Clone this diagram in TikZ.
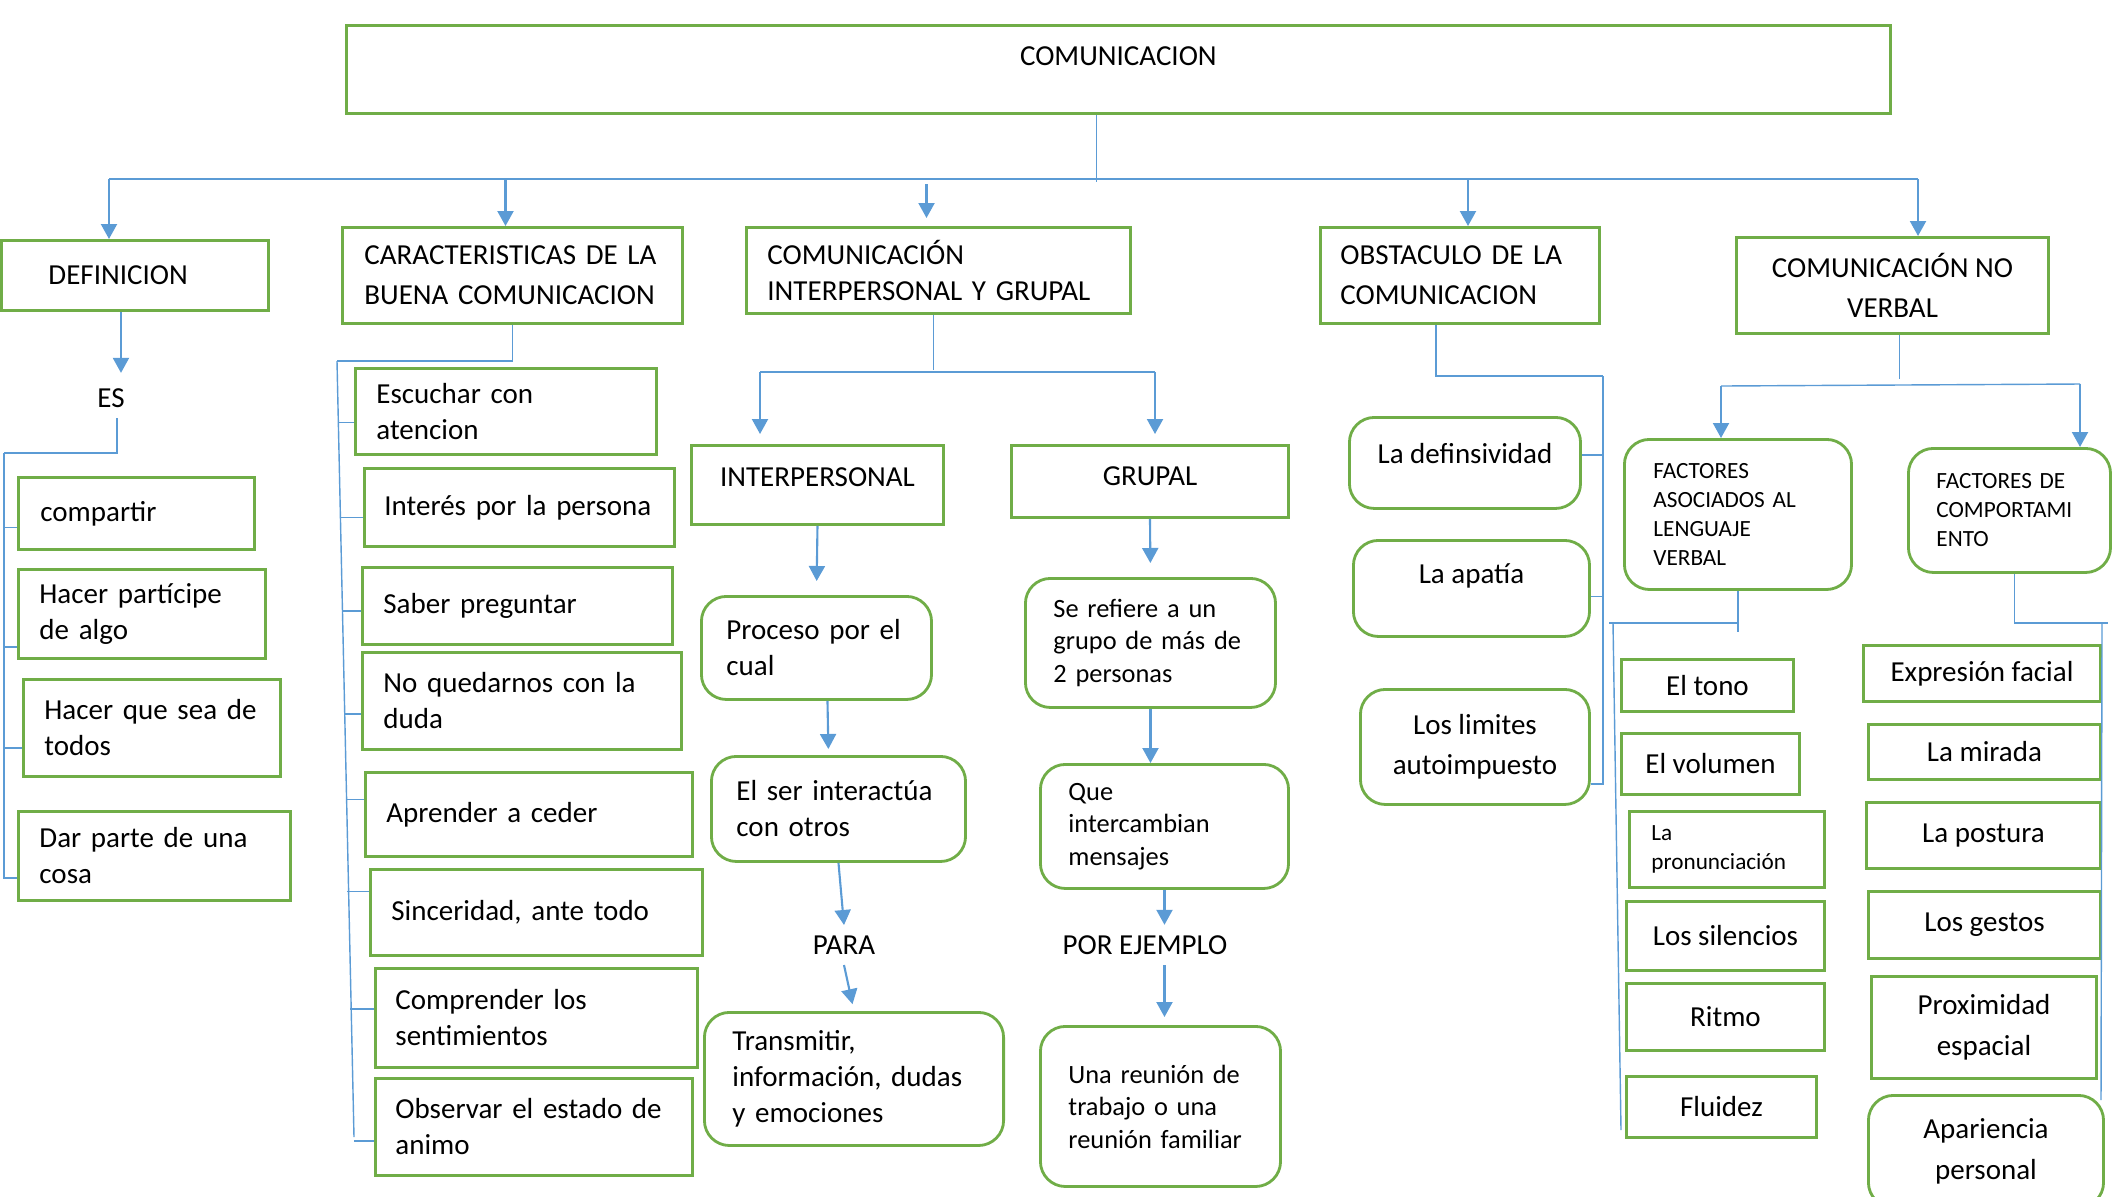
\documentclass[tikz,border=0pt]{standalone}
\usepackage{fontspec}
\setmainfont{Carlito}
\usepackage{tikz}
\usetikzlibrary{arrows.meta,calc}
\definecolor{boxgreen}{HTML}{70AD47}
\definecolor{lineblue}{HTML}{5B9BD5}
\newcommand{\fmain}{\fontsize{8.25}{10.25}\selectfont}
\newcommand{\fhead}{\fontsize{8.25}{11.5}\selectfont}
\newcommand{\fsmall}{\fontsize{7.5}{9.25}\selectfont}
\newcommand{\ftiny}{\fontsize{6.6}{8.25}\selectfont}

\begin{document}
\begin{tikzpicture}[x=0.01cm, y=-0.01cm,
        wh/.style 2 args={minimum width=#1cm, minimum height=#2cm},
        pad/.style 2 args={inner xsep=#1cm, text width=#2cm},
        box/.style={rectangle, draw=boxgreen, line width=0.8pt, anchor=north west, inner ysep=0pt, align=center, font=\fmain},
        lbox/.style={box, align=left},
        rbox/.style={box, rounded corners=0.25cm},
        rlbox/.style={lbox, rounded corners=0.25cm},
        lbl/.style={inner sep=0.1cm, font=\fmain},
        line/.style={draw=lineblue, line width=0.4pt},
        arrow/.style={draw=lineblue, line width=0.6pt, -{Triangle[width=0.16cm,length=0.15cm]}}
    ]
        \useasboundingbox (0,0) rectangle (2112,1196);
        \clip (0,0) rectangle (2112,1196);

        % Nodes
        \node[box, wh={15.43}{0.88}, text depth=0.26cm] (com) at (345,24) {COMUNICACION};

        \node[lbox, wh={2.67}{0.70}, pad={0.47}{1.73}] (defn) at (0,239) {DEFINICION};
        \node[lbox, wh={3.40}{0.96}, pad={0.22}{2.96}, font=\fhead] (car) at (341,226) {CARACTERISTICAS DE LA\\BUENA COMUNICACION};
        \node[lbox, wh={3.84}{0.86}, pad={0.21}{3.42}] (ci) at (745,226) {COMUNICACIÓN\\INTERPERSONAL Y GRUPAL};
        \node[lbox, wh={2.79}{0.96}, pad={0.20}{2.39}, font=\fhead] (obs) at (1319,226) {OBSTACULO DE LA\\COMUNICACION};
        \node[box, wh={3.12}{0.96}, font=\fhead] (nv) at (1735,236) {COMUNICACIÓN NO\\VERBAL};

        \node[lbl] (es) at (111,398) {ES};
        \node[lbox, wh={2.36}{0.72}, pad={0.22}{1.92}] (comp) at (17,476) {compartir};
        \node[lbox, wh={2.47}{0.89}, pad={0.21}{2.05}] (hac) at (17,568) {Hacer partícipe\\de algo};
        \node[lbox, wh={2.57}{0.97}, pad={0.21}{2.15}] (que) at (22,678) {Hacer que sea de\\todos};
        \node[lbox, wh={2.72}{0.89}, pad={0.21}{2.30}] (dar) at (17,810) {Dar parte de una\\cosa};

        \node[lbox, wh={3.01}{0.86}, pad={0.21}{2.59}] (esc) at (354,367) {Escuchar con\\atencion};
        \node[lbox, wh={3.10}{0.78}, pad={0.20}{2.70}] (int) at (363,467) {Interés por la persona};
        \node[lbox, wh={3.10}{0.77}, pad={0.21}{2.68}] (sab) at (361,566) {Saber preguntar};
        \node[lbox, wh={3.19}{0.97}, pad={0.21}{2.77}] (noq) at (361,651) {No quedarnos con la\\duda};
        \node[lbox, wh={3.27}{0.84}, pad={0.21}{2.85}] (apr) at (364,771) {Aprender a ceder};
        \node[lbox, wh={3.32}{0.86}, pad={0.21}{2.90}] (sin) at (369,868) {Sinceridad, ante todo};
        \node[lbox, wh={3.22}{0.99}, pad={0.20}{2.82}] (cmp) at (374,967) {Comprender los\\sentimientos};
        \node[lbox, wh={3.17}{0.97}, pad={0.20}{2.77}] (obv) at (374,1077) {Observar el estado de\\animo};

        \node[box, wh={2.52}{0.79}, text depth=0.16cm] (inter) at (690,444) {INTERPERSONAL};
        \node[box, wh={2.77}{0.72}, text depth=0.10cm] (grup) at (1010,444) {GRUPAL};
        \node[rlbox, wh={2.30}{1.03}, pad={0.25}{1.80}] (proc) at (700,595) {Proceso por el\\cual};
        \node[rlbox, wh={2.54}{1.05}, pad={0.25}{2.04}] (elser) at (710,755) {El ser interactúa\\con otros};
        \node[lbl] (para) at (844,945) {PARA};
        \node[rlbox, wh={2.99}{1.33}, pad={0.28}{2.43}] (trans) at (703,1011) {Transmitir,\\información, dudas\\y emociones};

        \node[rlbox, wh={2.50}{1.29}, pad={0.28}{1.94}, font=\fsmall] (sere) at (1024,577) {Se refiere a un\\grupo de más de\\2 personas};
        \node[rlbox, wh={2.48}{1.24}, pad={0.28}{1.92}, font=\fsmall] (queint) at (1039,763) {Que\\intercambian\\mensajes};
        \node[lbl] (ej) at (1145,945) {POR EJEMPLO};
        \node[rlbox, wh={2.40}{1.60}, pad={0.28}{1.84}, font=\fsmall] (reu) at (1039,1025) {Una reunión de\\trabajo o una\\reunión familiar};

        \node[rbox, wh={2.31}{0.91}, text depth=0.20cm] (defs) at (1348,416) {La definsividad};
        \node[rbox, wh={2.36}{0.96}, text depth=0.30cm] (apa) at (1352,539) {La apatía};
        \node[rbox, wh={2.29}{1.15}, font=\fhead] (lim) at (1359,688) {Los limites\\autoimpuesto};

        \node[rlbox, wh={2.27}{1.50}, pad={0.29}{1.69}, font=\ftiny] (fa) at (1623,438) {FACTORES\\ASOCIADOS AL\\LENGUAJE\\VERBAL};
        \node[rlbox, wh={2.02}{1.24}, pad={0.28}{1.46}, font=\ftiny] (fc) at (1907,447) {FACTORES DE\\COMPORTAMI\\ENTO};

        \node[box, wh={1.72}{0.52}] (tono) at (1620,658) {El tono};
        \node[box, wh={1.78}{0.61}] (vol) at (1620,732) {El volumen};
        \node[lbox, wh={1.95}{0.76}, pad={0.22}{1.51}, font=\ftiny] (pron) at (1628,810) {La\\pronunciación};
        \node[box, wh={1.98}{0.69}] (sil) at (1625,900) {Los silencios};
        \node[box, wh={1.98}{0.67}] (rit) at (1625,982) {Ritmo};
        \node[box, wh={1.90}{0.61}] (flu) at (1625,1075) {Fluidez};

        \node[box, wh={2.37}{0.56}] (expr) at (1862,644) {Expresión facial};
        \node[box, wh={2.32}{0.55}] (mir) at (1867,723) {La mirada};
        \node[box, wh={2.34}{0.66}] (pos) at (1865,801) {La postura};
        \node[box, wh={2.32}{0.67}] (ges) at (1867,890) {Los gestos};
        \node[box, wh={2.25}{1.02}, font=\fhead] (prox) at (1870,975) {Proximidad\\espacial};
        \node[rbox, wh={2.35}{1.12}, font=\fhead] (apar) at (1867,1094) {Apariencia\\personal};

        % Bus points
        \coordinate (busL) at (109,179);
        \coordinate (busR) at (1918,179);
        \coordinate (defL) at (4,453);
        \coordinate (carL) at (337,361);
        \coordinate (carB) at (354,1137);
        \coordinate (ciL) at (760,372);
        \coordinate (ciR) at (1155,372);
        \coordinate (obR) at (1603,376);
        \coordinate (nvL) at (1721,386);
        \coordinate (nvR) at (2080,384);
        \coordinate (faL) at (1609,623);
        \coordinate (faR) at (1738,623);
        \coordinate (faB) at (1621,1130);
        \coordinate (fcR) at (2108,623);
        \coordinate (fcB) at (2101,1100);

        % Arrows
        \draw[line] ([xshift=-0.22cm]com.south) -- ++(0,67);
        \draw[line] (busL) -- (busR);
        \draw[arrow] (busL) -- (busL |- defn.north);
        \draw[arrow] ([xshift=-0.07cm]car.north) ++(0,-47) -- ([xshift=-0.07cm]car.north);
        \draw[arrow, shorten >=0.08cm] ([xshift=-0.12cm]ci.north) ++(0,-42) -- ([xshift=-0.12cm]ci.north);
        \draw[arrow] ([xshift=0.08cm]obs.north) ++(0,-47) -- ([xshift=0.08cm]obs.north);
        \draw[arrow] (busR) -- (busR |- nv.north);

        \draw[arrow] ([xshift=-0.14cm]defn.south) -- ++(0,61);
        \draw[line] ([xshift=0.06cm]es.south) |- (defL);
        \foreach \n/\d in {comp/-0.14cm, hac/-0.33cm, que/-0.20cm, dar/-0.22cm}
            \draw[line] ([yshift=\d]\n.west) -| (defL);

        \draw[line] (car.south) |- (carL);
        \draw[line] (carL) -- (carB);
        \foreach \n/\d/\l in {esc/-0.11cm/16, int/-0.10cm/23, sab/-0.05cm/19, noq/-0.13cm/17, apr/0.15cm/18, sin/0.21cm/22, cmp/0.09cm/24, obv/-0.14cm/20}
            \draw[line] ([yshift=\d]\n.west) -- ++(-\l,0);

        \draw[line] ([xshift=-0.05cm]ci.south) -- ++(0,55);
        \draw[line] (ciL) -- (ciR);
        \draw[arrow, shorten >=0.1cm] (ciL) -- (ciL |- inter.north);
        \draw[arrow, shorten >=0.1cm] (ciR) -- (ciR |- grup.north);
        \draw[arrow, shorten >=0.14cm] (inter.south) -- (proc.north);
        \draw[arrow, shorten >=0.06cm] ([xshift=0.11cm]proc.south) -- ([xshift=-0.1cm]elser.north);
        \draw[arrow] (elser.south) -- (para.north);
        \draw[arrow, shorten >=0.07cm] (para.south) -- (trans.north);

        \draw[arrow, shorten >=0.14cm] (grup.south) -- (sere.north);
        \draw[arrow] (sere.south) -- (sere.south |- queint.north);
        \draw[arrow] (queint.south) -- (queint.south |- ej.north);
        \draw[arrow, shorten >=0.08cm] (queint.south |- ej.south) -- (queint.south |- reu.north);

        \draw[line] ([xshift=-0.24cm]obs.south) |- (obR);
        \foreach \n/\d in {defs/0.08cm, apa/-0.08cm, lim/-0.37cm}
            \draw[line] ([yshift=\d]\n.east) -| (obR);

        \draw[line] ([xshift=0.07cm]nv.south) -- ++(0,44);
        \draw[line] (nvL) -- (nvR);
        \draw[arrow] (nvL) -- (nvL |- fa.north);
        \draw[arrow] (nvR) -- (nvR |- fc.north);

        \draw[line] (fa.south) -- ++(0,41);
        \draw[line] (faL) -- (faR);
        \draw[line] ([xshift=0.04cm]faL) -- (faB);

        \draw[line] ([xshift=0.05cm]fc.south) |- (fcR);
        \draw[line] ([xshift=-0.06cm]fcR) -- (fcB);

    \end{tikzpicture}
\end{document}
